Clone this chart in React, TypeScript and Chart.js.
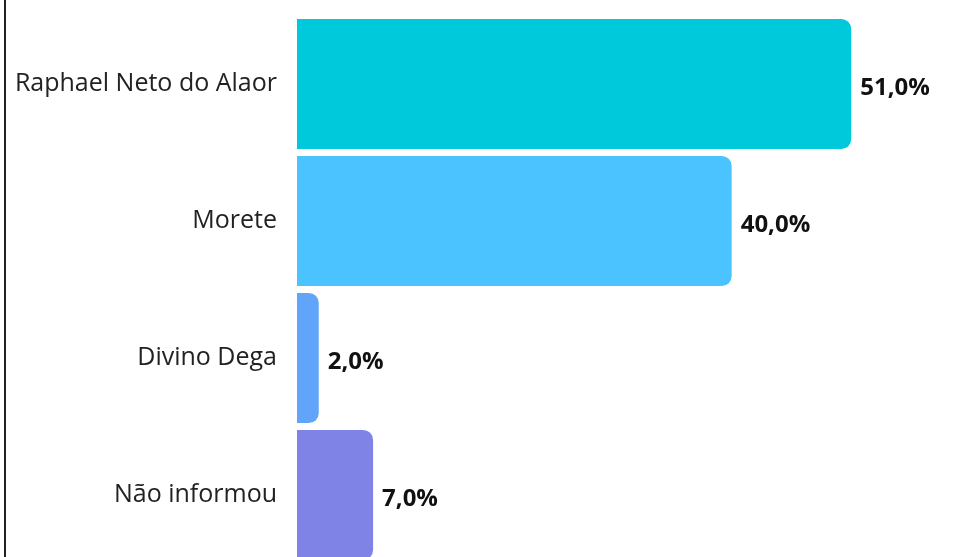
import React, { useEffect, useRef } from "react";
import { Chart, registerables } from "chart.js";

Chart.register(...registerables);

const categories = ["Raphael Neto do Alaor", "Morete", "Divino Dega", "Não informou"];
const values = [51, 40, 2, 7];
const barColors = ["#00C9DC", "#4AC3FF", "#60A5FA", "#7F83E6"];

const valueLabelPlugin = {
  id: "valueLabels",
  afterDatasetsDraw(chart: any) {
    const ctx = chart.ctx;
    const meta = chart.getDatasetMeta(0);
    ctx.save();
    ctx.font = "bold 24px 'Open Sans'";
    ctx.fillStyle = "#111";
    ctx.textAlign = "left";
    ctx.textBaseline = "middle";
    meta.data.forEach((bar: any, i: number) => {
      const v = values[i];
      ctx.fillText(v.toFixed(1).replace(".", ",") + "%", bar.x + 9, bar.y + 4);
    });
    ctx.restore();
  },
};

export default function App() {
  const ref = useRef<HTMLCanvasElement>(null);
  useEffect(() => {
    if (!ref.current) return;
    const chart = new Chart(ref.current, {
      type: "bar",
      data: {
        labels: categories,
        datasets: [
          {
            data: values,
            backgroundColor: barColors,
            borderRadius: 10,
            borderSkipped: "start",
            barPercentage: 0.95,
            categoryPercentage: 1,
          },
        ],
      },
      options: {
        indexAxis: "y",
        responsive: false,
        animation: false,
        maintainAspectRatio: false,
        layout: { padding: { top: 15.5, bottom: 16.5, left: 0, right: 15 } },
        plugins: {
          legend: { display: false },
          title: { display: false },
          tooltip: { enabled: false },
        },
        scales: {
          x: {
            display: false,
            min: 0,
            max: 60,
          },
          y: {
            grid: { display: false, drawTicks: false },
            border: { display: false },
            ticks: {
              color: "#222",
              padding: 20,
              font: { family: "'Open Sans'", size: 25 },
            },
            afterFit(scale: any) {
              scale.width = 297;
              scale.paddingTop = 0;
              scale.paddingBottom = 0;
            },
          },
        },
      },
      plugins: [valueLabelPlugin],
    });
    return () => chart.destroy();
  }, []);

  return (
    <div
      style={{
        position: "fixed",
        left: 0,
        top: 0,
        width: 964,
        height: 557,
        overflow: "hidden",
        background: "#fff",
      }}
    >
      <div
        style={{
          position: "absolute",
          left: 4,
          top: 0,
          width: 2,
          height: 557,
          background: "#222",
          zIndex: 1,
        }}
      />
      <canvas
        ref={ref}
        width={964}
        height={580}
        style={{ position: "absolute", left: 0, top: 0, width: 964, height: 580 }}
      />
    </div>
  );
}
